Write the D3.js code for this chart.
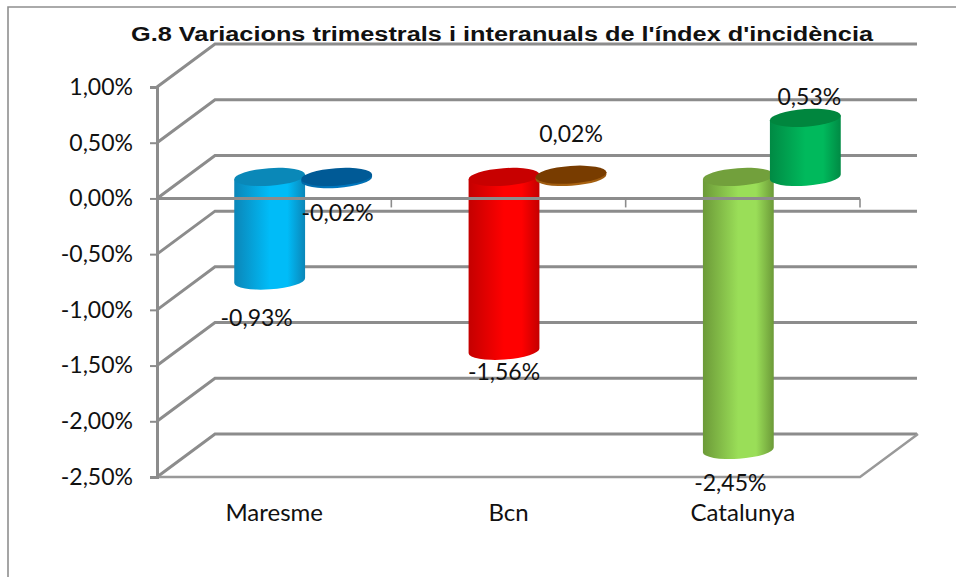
<!DOCTYPE html>
<html>
<head>
<meta charset="utf-8">
<script src="https://cdn.jsdelivr.net/npm/d3@7"></script>
<style>
  html, body { margin: 0; padding: 0; background: #fff; }
  svg { display: block; }
  text { fill: #111; }
</style>
</head>
<body>
<svg id="chart" width="956" height="577"></svg>
<script>
const chartTitle = "G.8 Variacions trimestrals i interanuals de l'índex d'incidència"
const categories = ["Maresme", "Bcn", "Catalunya"]
const seriesNames = ["interanual", "trimestral"]
const interanual = [-0.93, -1.56, -2.45]
const trimestral = [-0.02, 0.02, 0.53]
const yTicks = [1, 0.5, 0, -0.5, -1, -1.5, -2, -2.5]

// colours per category: [edge, centre, top cap]
const interanualColors = [
  ["#0b86b8", "#00bcf8", "#0a88b8"],
  ["#c40000", "#ff0000", "#c80000"],
  ["#6c9a38", "#9ade58", "#72a03c"],
]
const trimestralColors = [
  ["#0068a8", "#0078c0", "#005a96"],
  ["#9a5810", "#a86210", "#783c00"],
  ["#008a44", "#00b95c", "#00863e"],
]

// hand placed data labels in the original, offset from the bar's value position
const interanualNudge = [[-13, 16], [0, 0], [-8, 12]]
const trimestralNudge = [[1, 12], [0, -62], [4, -42]]

const GRID = "#8c8c8c"
const depth = { x: 58, y: -43 }
const svg = d3.select("#chart")

const x = d3.scaleBand().domain(categories).range([157, 860])
const xSeries = d3.scaleBand().domain(seriesNames).range([-67, 67])
const y = d3.scaleLinear().domain([-2.5, 1]).range([477, 87])

const locale = d3.formatLocale({ decimal: ",", thousands: ".", grouping: [3], currency: ["", "€"], minus: "-" })
const pct = locale.format(".2f")
const label = v => pct(v) + "%"

// frame
svg.append("path")
  .attr("d", "M8,577V7H956")
  .attr("fill", "none").attr("stroke", "#8f8f8f").attr("stroke-width", 1.6)

// back wall gridlines
const lineGen = d3.line()
svg.append("g").selectAll("path")
  .data(yTicks).enter().append("path")
  .attr("fill", "none").attr("stroke", GRID).attr("stroke-width", 3)
  .attr("d", v => lineGen([
    [x.range()[0], y(v)],
    [x.range()[0] + depth.x, y(v) + depth.y],
    [917, y(v) + depth.y],
  ]))

// floor: front edge and right edge
svg.append("path")
  .attr("d", lineGen([
    [x.range()[0], y(-2.5)],
    [x.range()[1], y(-2.5)],
    [x.range()[1] + depth.x, y(-2.5) + depth.y],
  ]))
  .attr("fill", "none").attr("stroke", "#999").attr("stroke-width", 2.4)

// y axis
const yAxis = d3.axisLeft(y).tickValues(yTicks).tickFormat(label).tickSize(7).tickPadding(17)
const yG = svg.append("g").attr("transform", `translate(${x.range()[0]},0)`).call(yAxis)
yG.select(".domain").attr("stroke", GRID).attr("stroke-width", 3)
yG.selectAll(".tick line").attr("stroke", GRID).attr("stroke-width", 2)
yG.selectAll(".tick text").attr("font-family", "Lato").attr("font-size", 23).attr("fill", "#111")

// x axis, labels only
const xAxis = d3.axisBottom(x).tickSize(0).tickPadding(27)
const xG = svg.append("g").attr("transform", `translate(0,${y(-2.5)})`).call(xAxis)
xG.select(".domain").remove()
xG.selectAll(".tick text").attr("font-family", "Lato").attr("font-size", 24).attr("fill", "#111")

// gradients
const defs = svg.append("defs")
function addGradient(id, c) {
  const g = defs.append("linearGradient").attr("id", id)
  g.append("stop").attr("offset", "0%").attr("stop-color", c[0])
  g.append("stop").attr("offset", "50%").attr("stop-color", c[1])
  g.append("stop").attr("offset", "75%").attr("stop-color", c[1])
  g.append("stop").attr("offset", "100%").attr("stop-color", c[0])
}

const tilt = 4 * Math.PI / 180
function cylinder(parent, id, cx, v, colors) {
  const rx = xSeries.bandwidth() / 2 + 2, ry = 8.8
  const topY = y(Math.max(v, 0)) + depth.y / 2
  const botY = y(Math.min(v, 0)) + depth.y / 2
  const ex = rx * Math.cos(tilt), ey = rx * Math.sin(tilt)
  addGradient(id, colors)
  parent.append("path")
    .attr("fill", `url(#${id})`)
    .attr("d", `M${cx - ex},${topY + ey}L${cx - ex},${botY + ey}` +
      `A${rx},${ry} -4 0 0 ${cx + ex},${botY - ey}L${cx + ex},${topY - ey}Z`)
  parent.append("ellipse")
    .attr("rx", rx).attr("ry", ry)
    .attr("transform", `translate(${cx},${topY}) rotate(-4)`)
    .attr("fill", colors[2])
}

// bars, interanual first so the trimestral one overlaps it
const bars = svg.append("g")
categories.forEach((c, i) => {
  const base = x(c) + x.bandwidth() / 2 + depth.x / 2
  cylinder(bars, "grad-a" + i, base + xSeries("interanual") + xSeries.bandwidth() / 2, interanual[i], interanualColors[i])
  cylinder(bars, "grad-t" + i, base + xSeries("trimestral") + xSeries.bandwidth() / 2, trimestral[i], trimestralColors[i])
})

// zero axis with category ticks, over the bars
svg.append("line")
  .attr("x1", x.range()[0]).attr("x2", x.range()[1])
  .attr("y1", y(0)).attr("y2", y(0))
  .attr("stroke", GRID).attr("stroke-width", 3)
svg.append("g").selectAll("line")
  .data(categories).enter().append("line")
  .attr("x1", d => x(d) + x.bandwidth()).attr("x2", d => x(d) + x.bandwidth())
  .attr("y1", y(0)).attr("y2", y(0) + 9)
  .attr("stroke", GRID).attr("stroke-width", 1.6)

// data labels
const labels = svg.append("g")
  .attr("font-family", "Lato").attr("font-size", 23).attr("text-anchor", "middle")
function addLabels(values, name, nudge) {
  values.forEach((v, i) => {
    const cx = x(categories[i]) + x.bandwidth() / 2 + depth.x / 2 + xSeries(name) + xSeries.bandwidth() / 2
    labels.append("text")
      .attr("x", cx + nudge[i][0])
      .attr("y", y(v) + nudge[i][1] + 8)
      .text(label(v))
  })
}
addLabels(interanual, "interanual", interanualNudge)
addLabels(trimestral, "trimestral", trimestralNudge)

// title, stretched to the width it has in the original
svg.append("text")
  .attr("x", 502).attr("y", 41)
  .attr("text-anchor", "middle")
  .attr("font-family", "Liberation Sans").attr("font-weight", "bold").attr("font-size", 20)
  .attr("textLength", 742).attr("lengthAdjust", "spacingAndGlyphs")
  .text(chartTitle)
</script>
</body>
</html>
